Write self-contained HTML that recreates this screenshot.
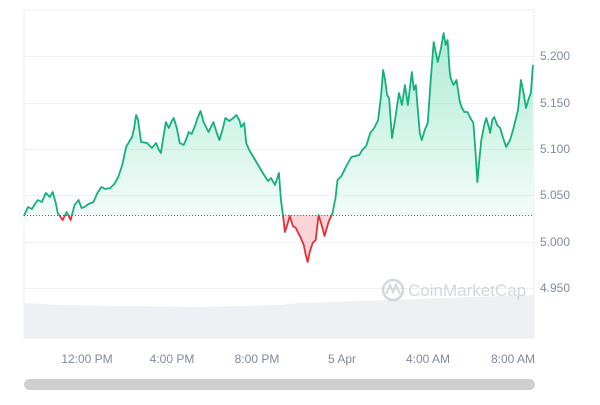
<!DOCTYPE html>
<html><head><style>
body{margin:0;background:#fff;width:600px;height:400px;overflow:hidden;font-family:"Liberation Sans",sans-serif}
</style></head><body>
<svg width="600" height="400" viewBox="0 0 600 400">
<defs>
<linearGradient id="g" x1="0" y1="30" x2="0" y2="215" gradientUnits="userSpaceOnUse">
<stop offset="0" stop-color="#16c784" stop-opacity="0.35"/><stop offset="1" stop-color="#16c784" stop-opacity="0.05"/></linearGradient>
<clipPath id="above"><rect x="0" y="0" width="600" height="215"/></clipPath>
<clipPath id="below"><rect x="0" y="215" width="600" height="200"/></clipPath>
</defs>
<rect x="24" y="10" width="510" height="328" fill="none" stroke="#eceef1"/>
<g stroke="#eff1f4" stroke-width="1">
<line x1="24" x2="534" y1="56.5" y2="56.5"/><line x1="24" x2="534" y1="103.5" y2="103.5"/>
<line x1="24" x2="534" y1="149.5" y2="149.5"/><line x1="24" x2="534" y1="195.5" y2="195.5"/>
<line x1="24" x2="534" y1="242.5" y2="242.5"/><line x1="24" x2="534" y1="288.5" y2="288.5"/>
</g>
<path d="M24,303 L60,305 L120,306 L200,307 L280,305 L300,303 L360,301 L420,299 L470,297 L534,295 L534,338 L24,338Z" fill="#eef0f3"/>
<g font-size="12" fill="#808a9d">
<text x="540" y="60">5.200</text><text x="540" y="107">5.150</text><text x="540" y="153">5.100</text>
<text x="540" y="199">5.050</text><text x="540" y="246">5.000</text><text x="540" y="292">4.950</text>
<g text-anchor="middle"><text x="87" y="363">12:00 PM</text><text x="172" y="363">4:00 PM</text><text x="257" y="363">8:00 PM</text><text x="342" y="363">5 Apr</text><text x="428" y="363">4:00 AM</text><text x="513" y="363">8:00 AM</text></g>
</g>
<g opacity="0.6"><circle cx="393" cy="290" r="10" fill="none" stroke="#b8bdc7" stroke-width="2.5"/>
<path d="M386,294 L390,285 L393,292 L396,285 L400,294" fill="none" stroke="#b8bdc7" stroke-width="2"/>
<text x="408" y="296" font-size="17" fill="#b8bdc7">CoinMarketCap</text></g>
<g transform="translate(24,0) scale(0.992,1) translate(-24,0)">
<path clip-path="url(#above)" fill="url(#g)" d="M24,215 L24,216 L28,207 L32,209 L35,204 L38,200 L42,202 L46,193 L50,197 L53,192 L56,203 L58,213 L63,220 L67,212 L71,220 L75,205 L79,200 L82,208 L85,207 L89,204 L94,202 L98,193 L102,187 L106,189 L111,188 L115,184 L119,177 L123,165 L127,147 L131,140 L133,137 L135,128 L137,115 L139,120 L142,142 L148,143 L153,148 L157,143 L160,150 L162,153 L164,140 L167,122 L170,128 L173,121 L175,118 L178,128 L181,143 L185,145 L188,138 L190,132 L193,134 L196,127 L199,118 L202,111 L205,122 L210,132 L213,126 L215,122 L218,132 L221,140 L224,130 L227,118 L231,121 L235,118 L238,115 L241,120 L243,127 L246,123 L248,143 L251,150 L254,155 L257,160 L260,165 L263,170 L266,175 L270,181 L273,178 L277,185 L281,173 L283,200 L285,215 L287,232 L289,226 L292,216 L295,226 L298,228 L300,232 L303,238 L306,245 L308,255 L310,262 L312,252 L315,243 L318,240 L321,215 L324,225 L327,236 L331,222 L335,213 L338,198 L340,180 L344,176 L349,166 L354,157 L358,156 L362,155 L365,150 L369,146 L373,133 L377,128 L381,120 L384,95 L386,70 L388,80 L390,95 L392,98 L395,138 L398,120 L402,93 L405,105 L408,85 L411,105 L413,88 L415,72 L417,90 L419,85 L421,110 L423,133 L425,140 L428,130 L431,123 L434,80 L437,42 L441,62 L444,50 L447,33 L449,45 L451,40 L453,70 L454,78 L457,85 L460,80 L463,100 L465,107 L468,112 L471,112 L474,118 L477,123 L479,150 L481,182 L483,160 L485,140 L488,125 L490,118 L492,125 L494,133 L496,120 L498,117 L501,125 L504,128 L507,138 L510,147 L514,140 L517,130 L520,118 L522,110 L525,80 L528,95 L530,108 L533,98 L535,93 L537,65 L537,215Z"/>
<path id="ln" fill="none" stroke-width="1.8" stroke-linejoin="round" d="M24,216 L28,207 L32,209 L35,204 L38,200 L42,202 L46,193 L50,197 L53,192 L56,203 L58,213 L63,220 L67,212 L71,220 L75,205 L79,200 L82,208 L85,207 L89,204 L94,202 L98,193 L102,187 L106,189 L111,188 L115,184 L119,177 L123,165 L127,147 L131,140 L133,137 L135,128 L137,115 L139,120 L142,142 L148,143 L153,148 L157,143 L160,150 L162,153 L164,140 L167,122 L170,128 L173,121 L175,118 L178,128 L181,143 L185,145 L188,138 L190,132 L193,134 L196,127 L199,118 L202,111 L205,122 L210,132 L213,126 L215,122 L218,132 L221,140 L224,130 L227,118 L231,121 L235,118 L238,115 L241,120 L243,127 L246,123 L248,143 L251,150 L254,155 L257,160 L260,165 L263,170 L266,175 L270,181 L273,178 L277,185 L281,173 L283,200 L285,215 L287,232 L289,226 L292,216 L295,226 L298,228 L300,232 L303,238 L306,245 L308,255 L310,262 L312,252 L315,243 L318,240 L321,215 L324,225 L327,236 L331,222 L335,213 L338,198 L340,180 L344,176 L349,166 L354,157 L358,156 L362,155 L365,150 L369,146 L373,133 L377,128 L381,120 L384,95 L386,70 L388,80 L390,95 L392,98 L395,138 L398,120 L402,93 L405,105 L408,85 L411,105 L413,88 L415,72 L417,90 L419,85 L421,110 L423,133 L425,140 L428,130 L431,123 L434,80 L437,42 L441,62 L444,50 L447,33 L449,45 L451,40 L453,70 L454,78 L457,85 L460,80 L463,100 L465,107 L468,112 L471,112 L474,118 L477,123 L479,150 L481,182 L483,160 L485,140 L488,125 L490,118 L492,125 L494,133 L496,120 L498,117 L501,125 L504,128 L507,138 L510,147 L514,140 L517,130 L520,118 L522,110 L525,80 L528,95 L530,108 L533,98 L535,93 L537,65"/>
<g clip-path="url(#below)">
<path fill="#ea3943" fill-opacity="0.22" d="M283,215 L285,215 L287,232 L289,226 L292,216 L295,226 L298,228 L300,232 L303,238 L306,245 L308,255 L310,262 L312,252 L315,243 L318,240 L321,215 L324,225 L327,236 L331,222 L335,213Z"/>
</g>
<use href="#ln" stroke="#12b07a" clip-path="url(#above)"/>
<use href="#ln" stroke="#e0303c" clip-path="url(#below)"/>
</g>
<line x1="24" x2="534" y1="215.5" y2="215.5" stroke="#666" stroke-width="1" stroke-dasharray="1,2"/>
<rect x="24" y="379" width="511" height="11" rx="5.5" fill="#cfcfcf"/>
</svg>
</body></html>
